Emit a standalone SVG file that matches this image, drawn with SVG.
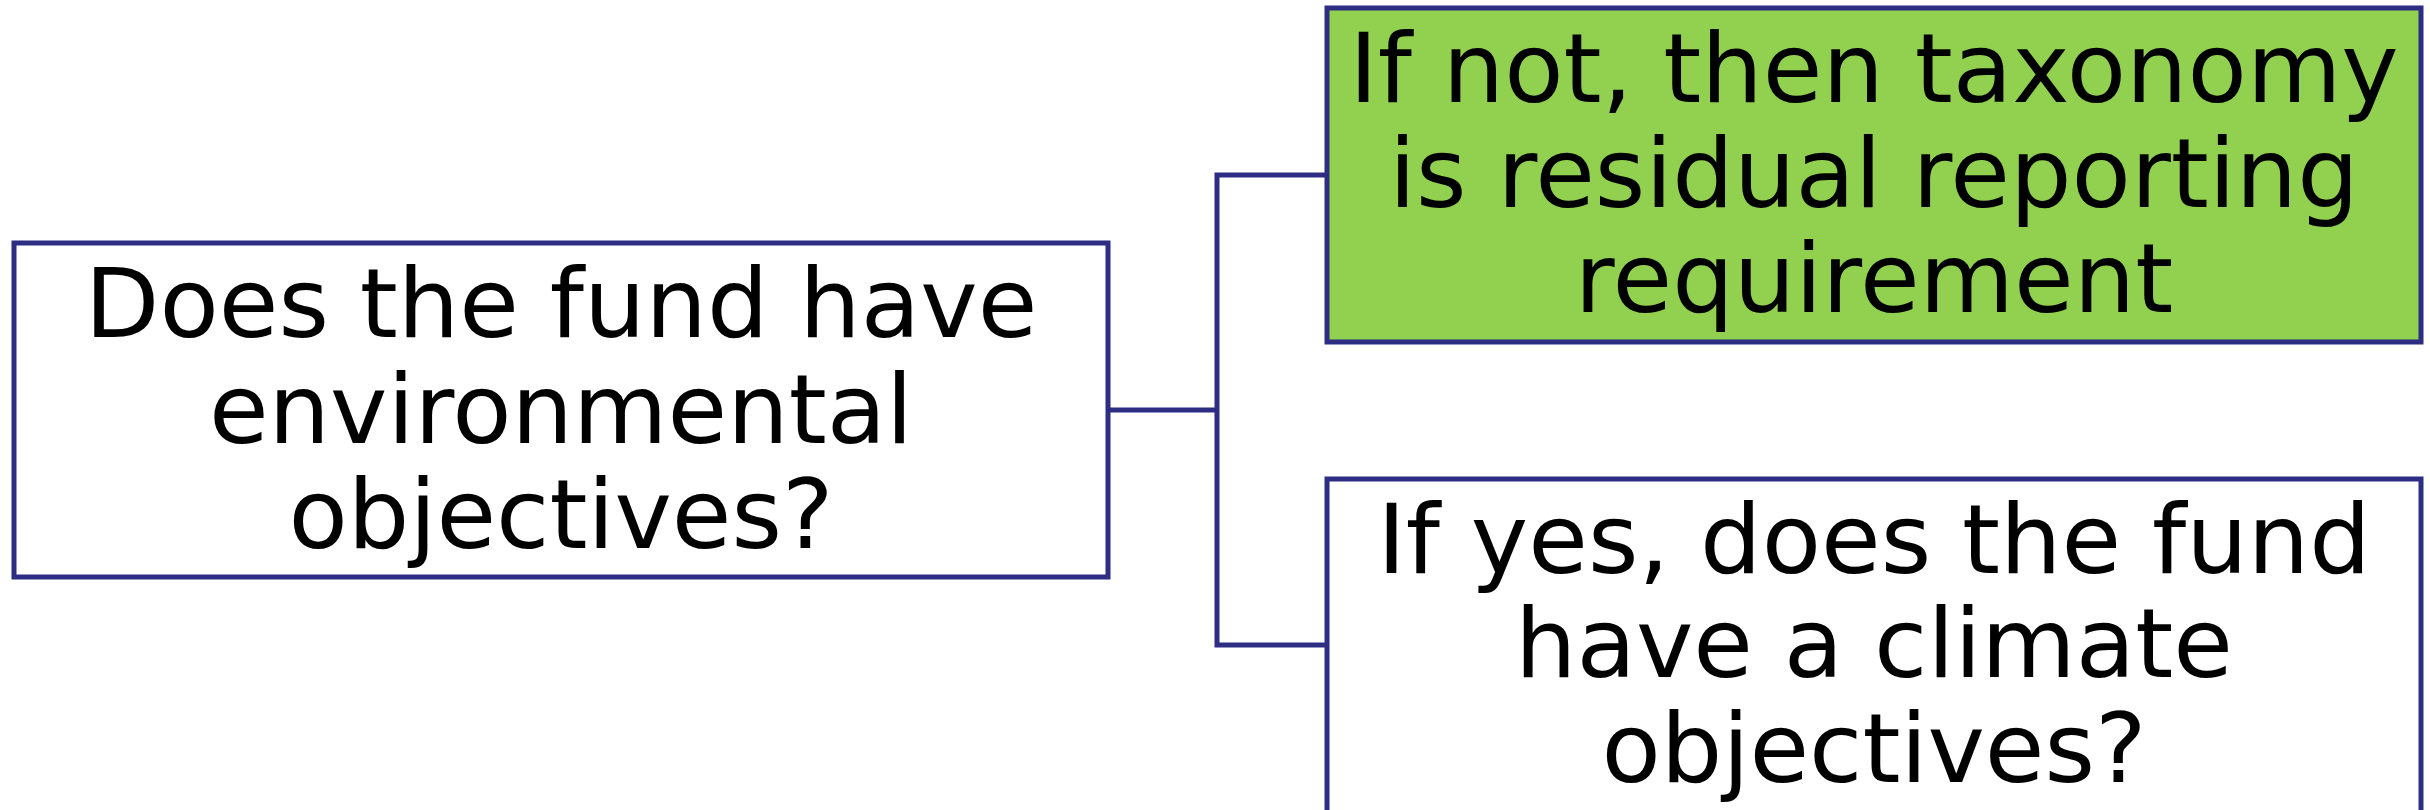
<svg xmlns="http://www.w3.org/2000/svg" width="2430" height="810" viewBox="0 0 2430 810">
<style>
.box{stroke:#2D2D83;stroke-width:5;stroke-linejoin:miter}
.lbl{font-family:"DejaVu Sans",Verdana,sans-serif;font-size:97px;fill:#000;text-anchor:middle}
.conn{fill:none;stroke:#2D2D83;stroke-width:5}
</style>
<rect width="2430" height="810" fill="#fff"/>
<g id="connectors">
<path class="conn" d="M1108 410 H1217"/>
<path class="conn" d="M1327 175 H1217 V645 H1327"/>
</g>
<g id="root">
<rect class="box" x="14" y="243" width="1094" height="334" fill="#fff"/>
<text class="lbl" x="561" y="337">Does the fund have</text>
<text class="lbl" x="561" y="443">environmental</text>
<text class="lbl" x="561" y="548">objectives?</text>
</g>
<g id="no">
<rect class="box" x="1327" y="8" width="1094" height="334" fill="#92D050"/>
<text class="lbl" x="1874" y="102">If not, then taxonomy</text>
<text class="lbl" x="1874" y="207">is residual reporting</text>
<text class="lbl" x="1874" y="312">requirement</text>
</g>
<g id="yes">
<rect class="box" x="1327" y="479" width="1094" height="334" fill="#fff"/>
<text class="lbl" x="1874" y="573">If yes, does the fund</text>
<text class="lbl" x="1874" y="677">have a climate</text>
<text class="lbl" x="1874" y="782">objectives?</text>
</g>
</svg>
